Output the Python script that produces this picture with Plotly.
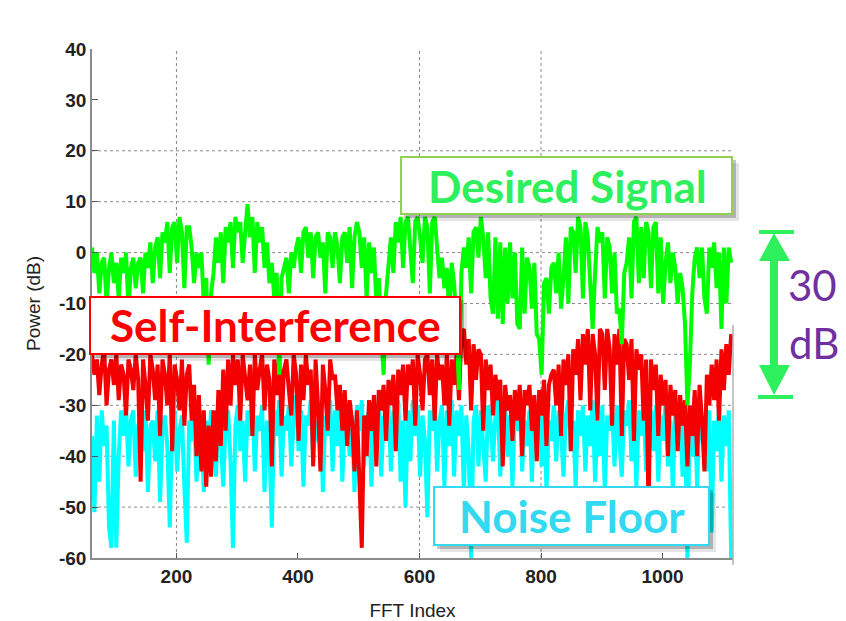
import plotly.graph_objects as go

# ---------------- data ----------------
fft_index = list(range(61, 1117, 4))

desired_signal = [
    1, -4, 0, -8, -2, -1, -10, -3, 0, -6,
    -2, -9, -1, -4, 0, -11, -3, -1, -7, -2,
    -1, -8, 0, -3, 2, -6, 1, 3, -5, 4,
    2, 6, -4, 5, 6, -2, 7, 4, -7, 5,
    5, 1, -6, 0, -3, 0, -10, -5, -22, -8,
    -4, 3, -2, 4, -6, 5, 2, 6, -3, 7,
    4, 6, -2, 5, 9.5, 3, 7, -4, 6, 2,
    5, -3, 2, -6, -2, -9, -4, -24, -5, -3,
    -1, -8, 0, -3, 1, 3, -4, 4, 5, -1,
    4, -5, 3, 4, -1, 2, -8, 4, 3, -3,
    4, 1, -6, 3, 4, -2, 5, -7, 3, 6,
    4, -3, 3, -9, 2, -4, 1, -10, -5, -16,
    -24, -8, -2, 3, -4, 6, 2, 7, -3, 6,
    7, 1, -6, 6, 7, 3, -2, 7, 5, -8,
    6, 7, 2, -5, -1, -7, -3, -12, -2, -6,
    -14, -27, -4, 1, -3, 3, -8, 4, 5, -1,
    7, 3, -5, 4, -9, -12, 3, -13, 2, -14,
    1, -10, 2, -9, 0, -14, -15, 1, -12, -1,
    -3, -11, -2, -16, -17, -24, -6, -5, -12, -3,
    -2, -8, 0, -11, -5, 3, -10, 5, 4, -4,
    7, 5, -9, 6, 3, -6, -15, -4, 5, 2,
    4, -9, 3, 1, -8, 0, -12, -11, -18, -4,
    -2, 3, -9, 6, 7, -6, 5, -5, 6, 4,
    -7, 5, 6, -8, 3, -10, -2, 2, -6, 0,
    -3, -10, -4, -7, -14, -30, -22, -8, -1, 1,
    -5, 1, -9, -12, 1, -3, 2, -7, 0, -15,
    1, -10, 1, -2,
]

self_interference = [
    -20, -24, -21, -28, -22, -19, -30, -23, -21, -26,
    -20, -29, -22, -24, -32, -21, -23, -27, -20, -25,
    -45, -21, -26, -33, -20, -23, -29, -22, -36, -21,
    -24, -30, -20, -39, -22, -25, -31, -21, -34, -24,
    -22, -33, -26, -40, -28, -43, -31, -46, -34, -44,
    -31, -41, -27, -38, -23, -35, -21, -30, -20, -26,
    -21, -33, -20, -24, -29, -22, -36, -20, -27, -23,
    -20, -31, -22, -25, -42, -21, -28, -20, -34, -23,
    -21, -27, -32, -20, -24, -37, -22, -29, -20, -26,
    -23, -42, -21, -30, -43, -22, -27, -35, -21, -25,
    -24, -31, -26, -35, -27, -38, -29, -33, -43, -31,
    -45, -58, -32, -40, -29, -35, -28, -42, -27, -31,
    -26, -37, -25, -30, -24, -39, -23, -28, -22, -33,
    -22, -26, -21, -34, -20, -24, -31, -21, -20, -28,
    -21, -33, -20, -25, -22, -30, -20, -34, -21, -26,
    -20, -29, -16, -15, -22, -17, -31, -18, -25, -19,
    -20, -35, -21, -27, -22, -32, -24, -29, -25, -42,
    -26, -31, -28, -37, -27, -33, -26, -40, -27, -30,
    -26, -35, -28, -41, -27, -32, -25, -38, -26, -24,
    -23, -30, -22, -36, -21, -26, -20, -39, -19, -24,
    -17, -29, -16, -22, -15, -31, -16, -20, -33, -15,
    -16, -27, -15, -19, -34, -16, -22, -15, -36, -17,
    -18, -25, -17, -37, -19, -23, -20, -33, -21, -51,
    -21, -27, -22, -36, -24, -30, -25, -40, -26, -32,
    -27, -39, -28, -34, -29, -42, -30, -36, -27, -40,
    -26, -33, -43, -24, -30, -22, -29, -21, -33, -19,
    -27, -18, -24, -16,
]

noise_floor = [
    -36, -51, -32, -45, -31, -38, -34, -54, -58, -33,
    -58, -40, -31, -36, -30, -42, -33, -31, -44, -34,
    -32, -39, -31, -47, -34, -33, -41, -31, -49, -35,
    -32, -38, -54, -34, -31, -43, -35, -32, -46, -57,
    -33, -37, -31, -45, -35, -32, -47, -33, -39, -31,
    -34, -44, -32, -37, -46, -33, -31, -41, -58, -34,
    -30, -39, -33, -45, -31, -36, -29, -43, -32, -35,
    -30, -47, -33, -38, -54, -31, -36, -29, -44, -32,
    -35, -30, -42, -33, -28, -39, -31, -46, -32, -34,
    -29, -41, -33, -37, -30, -47, -32, -36, -29, -43,
    -31, -38, -28, -45, -33, -30, -40, -32, -47, -30,
    -35, -29, -42, -33, -31, -46, -30, -37, -28, -44,
    -32, -36, -30, -43, -31, -38, -29, -45, -33, -50,
    -31, -41, -29, -36, -30, -44, -32, -37, -52, -31,
    -35, -28, -43, -33, -30, -46, -31, -38, -29, -44,
    -31, -36, -30, -47, -32, -39, -60, -33, -30, -42,
    -31, -37, -45, -30, -33, -41, -32, -29, -44, -34,
    -30, -40, -32, -46, -31, -35, -28, -43, -33, -38,
    -31, -45, -30, -36, -32, -42, -29, -47, -33, -37,
    -30, -41, -31, -35, -44, -32, -29, -39, -33, -46,
    -31, -36, -30, -43, -32, -38, -29, -45, -33, -40,
    -30, -47, -32, -35, -31, -42, -30, -37, -44, -31,
    -34, -29, -41, -32, -46, -31, -36, -30, -43, -33,
    -31, -39, -30, -45, -32, -37, -29, -42, -33, -47,
    -30, -36, -31, -44, -33, -60, -32, -40, -31, -46,
    -30, -37, -32, -43, -31, -55, -33, -39, -30, -45,
    -32, -38, -31, -60,
]

x_tick_vals = [200, 400, 600, 800, 1000]
x_tick_labels = ["200", "400", "600", "800", "1000"]
y_tick_vals = [-60, -50, -40, -30, -20, -10, 0, 10, 20, 30, 40]
y_tick_labels = ["-60", "-50", "-40", "-30", "-20", "-10", "0", "10", "20", "30", "40"]
grid_x = [200, 600, 800]
grid_y = [20, 10, 0, -10, -20, -30, -40, -50]

# ---------------- geometry helpers (screen pixels -> paper) ----------------
W, H = 846, 621
OFF = 8  # page body offset of the plot div
PL, PR, PT, PB = 92, 733, 49, 558  # target plot-area edges on screen


def fx(p):
    return (p - PL) / (PR - PL)


def fy(p):
    return (PB - p) / (PB - PT)


GREEN_TXT = "#2ef05c"
CYAN_TXT = "#33d9f0"
PURPLE = "#7030a0"
LW = 4.0

fig = go.Figure()
fig.add_trace(go.Scatter(x=fft_index, y=noise_floor, mode="lines",
                         line=dict(color="#00ffff", width=LW), name="Noise Floor"))
fig.add_trace(go.Scatter(x=fft_index, y=self_interference, mode="lines",
                         line=dict(color="#f40000", width=LW), name="Self-Interference"))
fig.add_trace(go.Scatter(x=fft_index, y=desired_signal, mode="lines",
                         line=dict(color="#00ff00", width=LW), name="Desired Signal"))

shapes = []
for gx in grid_x:
    shapes.append(dict(type="line", xref="x", yref="paper", x0=gx, x1=gx, y0=0, y1=1,
                       line=dict(color="#8a8a8a", width=1, dash="dot"), layer="below"))
for gy in grid_y:
    shapes.append(dict(type="line", xref="paper", yref="y", x0=0, x1=1, y0=gy, y1=gy,
                       line=dict(color="#8a8a8a", width=1, dash="dot"), layer="below"))
# partial right border
shapes.append(dict(type="line", xref="paper", yref="paper", x0=1, x1=1, y0=fy(565), y1=fy(325),
                   line=dict(color="#b0b0b0", width=1.5)))


def label_box(x0, y0, x1, y1, border):
    shapes.append(dict(type="rect", xref="paper", yref="paper",
                       x0=fx(x0 + 6), x1=fx(x1 + 7), y0=fy(y1 + 7), y1=fy(y0 + 6),
                       fillcolor="rgba(0,0,0,0.10)", line=dict(width=0)))
    shapes.append(dict(type="rect", xref="paper", yref="paper",
                       x0=fx(x0 + 3), x1=fx(x1 + 4), y0=fy(y1 + 4), y1=fy(y0 + 3),
                       fillcolor="rgba(0,0,0,0.22)", line=dict(width=0)))
    shapes.append(dict(type="rect", xref="paper", yref="paper",
                       x0=fx(x0), x1=fx(x1), y0=fy(y1), y1=fy(y0),
                       fillcolor="white", line=dict(color=border, width=2)))


label_box(401, 157, 732, 214, "#92d050")
label_box(90, 297, 460, 354, "#ff0000")
label_box(434, 487, 709, 545, CYAN_TXT)

# double-headed arrow
ax = 774
shapes.append(dict(type="line", xref="paper", yref="paper", x0=fx(ax), x1=fx(ax),
                   y0=fy(370), y1=fy(255), line=dict(color=GREEN_TXT, width=8)))
shapes.append(dict(type="path", xref="paper", yref="paper",
                   path=f"M {fx(759)} {fy(261)} L {fx(ax)} {fy(233)} L {fx(790)} {fy(261)} Z",
                   fillcolor=GREEN_TXT, line=dict(width=0)))
shapes.append(dict(type="path", xref="paper", yref="paper",
                   path=f"M {fx(759)} {fy(365)} L {fx(ax)} {fy(395)} L {fx(790)} {fy(365)} Z",
                   fillcolor=GREEN_TXT, line=dict(width=0)))
shapes.append(dict(type="line", xref="paper", yref="paper", x0=fx(759), x1=fx(794),
                   y0=fy(232), y1=fy(232), line=dict(color=GREEN_TXT, width=4)))
shapes.append(dict(type="line", xref="paper", yref="paper", x0=fx(758), x1=fx(793),
                   y0=fy(397), y1=fy(397), line=dict(color=GREEN_TXT, width=4)))


def label(text, px, py, size, color):
    return dict(text=text, x=fx(px), y=fy(py), xref="paper", yref="paper",
                xanchor="center", yanchor="middle", showarrow=False,
                font=dict(family="Lato", size=size, color=color))


annotations = [
    label("<b>Desired Signal</b>", 567, 186, 44, GREEN_TXT),
    label("<b>Self-Interference</b>", 275, 325, 44, "#ff0000"),
    label("<b>Noise Floor</b>", 572, 516, 44, CYAN_TXT),
    label("30", 813, 285, 42, PURPLE),
    label("dB", 814, 343, 42, PURPLE),
]

axis_font = dict(family="Liberation Sans", size=19, color="#222222", weight="bold")
fig.update_layout(
    width=W, height=H,
    margin=dict(l=PL - OFF, r=W - PR + OFF, t=PT - OFF, b=H - PB + OFF),
    paper_bgcolor="white", plot_bgcolor="white",
    showlegend=False,
    shapes=shapes, annotations=annotations,
    xaxis=dict(range=[61, 1116], tickvals=x_tick_vals, ticktext=x_tick_labels,
               ticks="inside", ticklen=5, tickcolor="#555555",
               showline=True, linecolor="#8c8c8c", linewidth=1.5,
               showgrid=False, zeroline=False, tickfont=axis_font,
               title=dict(text="FFT Index", standoff=18,
                          font=dict(family="Liberation Sans", size=19, color="#222222"))),
    yaxis=dict(range=[-60, 40], tickvals=y_tick_vals, ticktext=y_tick_labels,
               ticks="inside", ticklen=6, tickcolor="#555555",
               showline=True, linecolor="#8c8c8c", linewidth=1.5,
               showgrid=False, zeroline=False, tickfont=axis_font,
               title=dict(text="Power (dB)", standoff=13,
                          font=dict(family="Liberation Sans", size=19, color="#222222"))),
)

fig.write_html("out.html")
